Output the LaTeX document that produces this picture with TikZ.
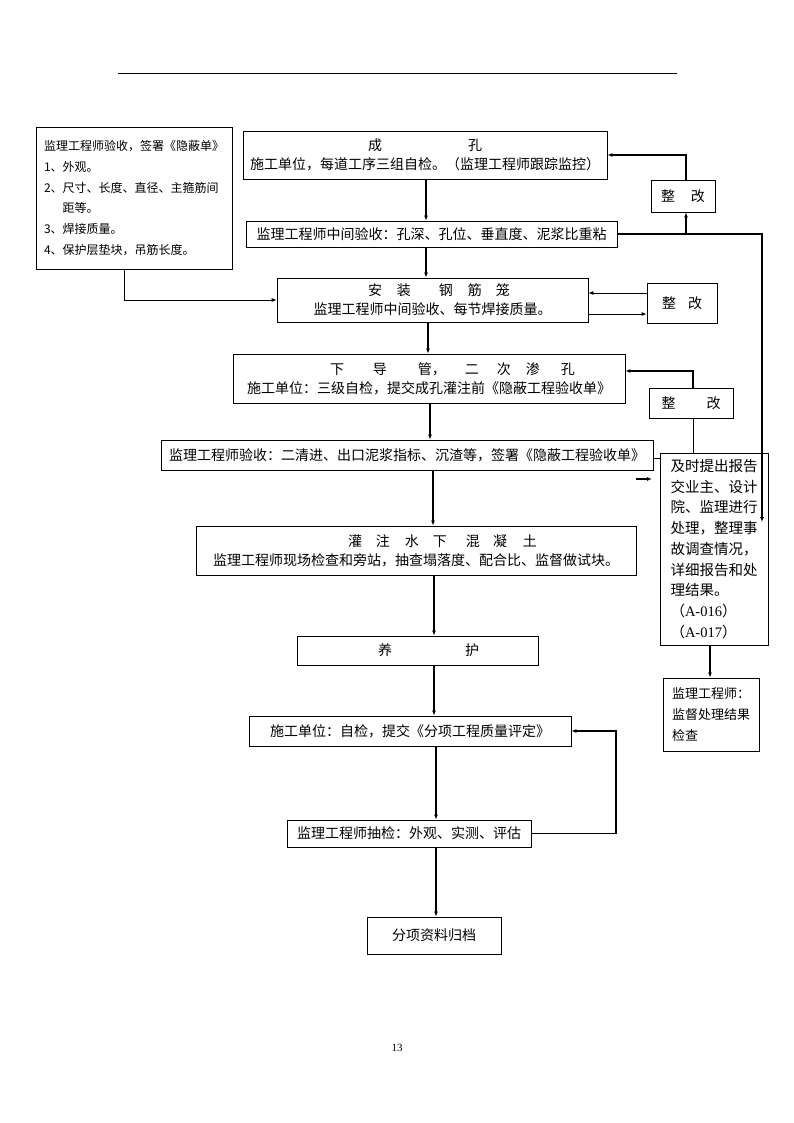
\documentclass[tikz,border=0pt]{standalone}
\usepackage{fontspec}
\setmainfont{Liberation Serif}
\newfontfamily\cjk{Noto Sans CJK SC}
\usepackage{tikz}
\usetikzlibrary{positioning,arrows.meta}

\tikzset{
  box/.style={draw, line width=0.8pt, inner sep=0pt, align=center,
    font=\cjk\fontsize{14}{19}\selectfont},
  notebox/.style={draw, line width=0.8pt, inner sep=0pt, align=left},
  arr/.style={-{Latex[length=5pt,width=4pt]}, line width=1.8pt},
  tarr/.style={-{Latex[length=5pt,width=4pt]}, line width=0.8pt},
}

\begin{document}
\begin{tikzpicture}[x=1pt,y=-1pt]
  \useasboundingbox (0,0) rectangle (794,1123);
  % Header rule
  \draw[line width=0.8pt] (118,73) -- (677,73);
  % Main chain
  \node[box, minimum width=364pt, minimum height=48pt] (chengkong) at (425,155)
    {成\hspace{86pt}孔\\施工单位，每道工序三组自检。（监理工程师跟踪监控）};
  \node[box, minimum width=371pt, minimum height=26pt] (zhongjian) at (431.5,234)
    {监理工程师中间验收：孔深、孔位、垂直度、泥浆比重粘};
  \node[box, minimum width=311pt, minimum height=44pt] (anzhuang) at (432.5,300)
    {\hspace*{13pt}安\hspace{15pt}装\hspace{28pt}钢\hspace{15pt}筋\hspace{14pt}笼\\监理工程师中间验收、每节焊接质量。};
  \node[box, minimum width=392pt, minimum height=49pt] (xiadaoguan) at (429,378.5)
    {\hspace*{47pt}下\hspace{29pt}导\hspace{31pt}管，\hspace{19pt}二\hspace{18pt}次\hspace{15pt}渗\hspace{21pt}孔\\施工单位：三级自检，提交成孔灌注前《隐蔽工程验收单》};
  \node[box, minimum width=492pt, minimum height=30pt] (jianli) at (407,455)
    {监理工程师验收：二清进、出口泥浆指标、沉渣等，签署《隐蔽工程验收单》};
  \node[box, minimum width=440pt, minimum height=49pt] (guanzhu) at (416,550.5)
    {\hspace*{53pt}灌\hspace{14pt}注\hspace{15pt}水\hspace{14pt}下\hspace{19pt}混\hspace{13pt}凝\hspace{16pt}土\\监理工程师现场检查和旁站，抽查塌落度、配合比、监督做试块。};
  \node[box, minimum width=241pt, minimum height=29pt] (yanghu) at (417.5,650.5)
    {\hspace*{22pt}养\hspace{73pt}护};
  \node[box, minimum width=322pt, minimum height=30pt] (shigong) at (410,731)
    {施工单位：自检，提交《分项工程质量评定》};
  \node[box, minimum width=244pt, minimum height=27pt] (choujian) at (409,833.5)
    {监理工程师抽检：外观、实测、评估};
  \node[box, minimum width=134pt, minimum height=37pt] (guidang) at (434,935.5)
    {分项资料归档};
  % Rework boxes
  \node[box, minimum width=64pt, minimum height=32pt] (zg1) at (683,196)
    {整\hspace{16pt}改};
  \node[box, minimum width=70pt, minimum height=40pt] (zg2) at (682,303)
    {整\hspace{12pt}改};
  \node[box, minimum width=84pt, minimum height=30pt] (zg3) at (691,403)
    {整\hspace{31pt}改};
  % Side notes
  \node[notebox, minimum width=196pt, minimum height=142pt,
    font=\cjk\fontsize{12}{20.8}\selectfont] (note) at (134,198)
    {监理工程师验收，签署《隐蔽单》\\1、外观。\\2、尺寸、长度、直径、主箍筋间\\\hphantom{2、}距等。\\3、焊接质量。\\4、保护层垫块，吊筋长度。};
  \node[notebox, minimum width=108pt, minimum height=192pt,
    font=\cjk\fontsize{14.5}{20.75}\selectfont] (jishi) at (714,549)
    {及时提出报告\\交业主、设计\\院、监理进行\\处理，整理事\\故调查情况，\\详细报告和处\\理结果。\\（{\rmfamily A-016}）\\（{\rmfamily A-017}）};
  \node[notebox, minimum width=96pt, minimum height=73pt,
    font=\cjk\fontsize{13}{21}\selectfont] (jgs) at (711,714.5)
    {监理工程师：\\监督处理结果\\检查\hspace{52pt}};
  % Page number
  \node[font=\fontsize{11}{13}\selectfont] (pnum) at (397,1048) {13};
  % Main arrows
  \foreach \a/\b/\x in {chengkong/zhongjian/426, zhongjian/anzhuang/426,
    anzhuang/xiadaoguan/428, xiadaoguan/jianli/430, jianli/guanzhu/433,
    guanzhu/yanghu/434, yanghu/shigong/434, shigong/choujian/436,
    choujian/guidang/436}
    \draw[arr] (\x,0 |- \a.south) -- (\x,0 |- \b.north);
  % Right side loops
  \coordinate (r1) at (762,522);
  \draw[arr] (zhongjian.east) -| (r1);
  \draw[arr] (686,0 |- zhongjian.east) -- (686,0 |- zg1.south);
  \draw[arr] (686,0 |- zg1.north) |- (chengkong.east);
  \draw[tarr] (zg2.west |- 0,293) -- (anzhuang.east |- 0,293);
  \draw[tarr] (anzhuang.east |- 0,314) -- (zg2.west |- 0,314);
  \draw[arr] (693,0 |- zg3.north) |- (xiadaoguan.east |- 0,371);
  \draw[line width=0.8pt] (693,0 |- zg3.south) -- (693,0 |- jishi.north);
  \draw[line width=0.8pt] (jianli.east |- 0,458) -- (jishi.west |- 0,458);
  \coordinate (s1) at (636,479);
  \coordinate (s2) at (652,479);
  \draw[arr] (s1) -- (s2);
  \draw[arr] (710,0 |- jishi.south) -- (710,0 |- jgs.north);
  % Note to cage
  \draw[tarr] (124,0 |- note.south) |- (anzhuang.west);
  % Spot check back to self check
  \draw[tarr, line width=1.2pt] (choujian.east) -| (616,731) -- (shigong.east);
\end{tikzpicture}
\end{document}
